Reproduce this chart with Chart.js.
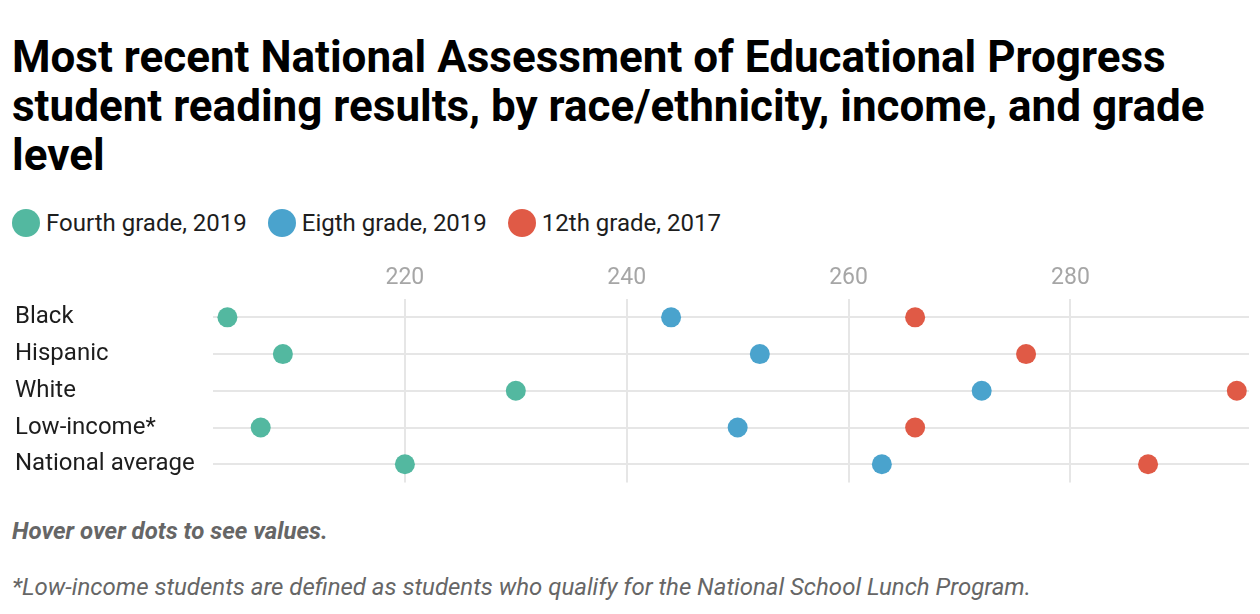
<!DOCTYPE html>
<html>
<head>
<meta charset="utf-8">
<script src="https://cdn.jsdelivr.net/npm/chart.js@4"></script>
<style>
    body {
        margin: 0;
        width: 1260px;
        height: 614px;
        background: #fff;
        font-family: Roboto, "Noto Sans", sans-serif;
        position: relative;
        overflow: hidden;
    }
    .title {
        position: absolute;
        left: 12px;
        top: 33px;
        width: 1240px;
        font-size: 44px;
        font-weight: 700;
        line-height: 49px;
        color: #000;
    }
    .legend {
        position: absolute;
        left: 12px;
        top: 209px;
        display: flex;
        font-size: 24px;
        color: #1d1d1d;
    }
    .legend-item {
        display: flex;
        align-items: center;
        margin-right: 21px;
    }
    .legend-dot {
        width: 28px;
        height: 28px;
        border-radius: 50%;
        margin-right: 6px;
    }
    .chart-box {
        position: absolute;
        left: 0;
        top: 251px;
        width: 1260px;
        height: 266px;
    }
    .note {
        position: absolute;
        left: 12px;
        font-size: 24px;
        color: #666;
        font-style: italic;
    }
    .hover { top: 517px; font-weight: 700; }
    .foot { top: 573px; }
</style>
</head>
<body>
<div class="title">Most recent National Assessment of Educational Progress student reading results, by race/ethnicity, income, and grade level</div>
<div class="legend" id="legend"></div>
<div class="chart-box"><canvas id="dotChart"></canvas></div>
<div class="note hover">Hover over dots to see values.</div>
<div class="note foot">*Low-income students are defined as students who qualify for the National School Lunch Program.</div>

<script>
// Categories and values
const groups = ['Black', 'Hispanic', 'White', 'Low-income*', 'National average'];
const seriesNames = ['Fourth grade, 2019', 'Eigth grade, 2019', '12th grade, 2017'];
const fourthGrade = [204, 209, 230, 207, 220];
const eighthGrade = [244, 252, 272, 250, 263];
const twelfthGrade = [266, 276, 295, 266, 287];
const tickValues = [220, 240, 260, 280];
const colors = ['#53b8a0', '#4aa3cd', '#e05a46'];

const seriesValues = [fourthGrade, eighthGrade, twelfthGrade];

// Build the legend
const legend = document.getElementById('legend');
seriesNames.forEach((name, i) => {
    legend.innerHTML += `
        <div class="legend-item">
            <span class="legend-dot" style="background:${colors[i]}"></span>
            <span>${name}</span>
        </div>`;
});

const datasets = seriesNames.map((name, i) => ({
    label: name,
    data: seriesValues[i].map((v, j) => ({ x: v, y: groups[j] })),
    backgroundColor: colors[i],
    borderWidth: 0,
    pointRadius: 10,
    pointHoverRadius: 11
}));

new Chart(document.getElementById('dotChart').getContext('2d'), {
    type: 'scatter',
    data: { datasets },
    options: {
        responsive: true,
        maintainAspectRatio: false,
        animation: false,
        layout: { padding: { left: 15, right: 10, top: 0, bottom: 9 } },
        plugins: {
            legend: { display: false },
            tooltip: {
                callbacks: {
                    label: ctx => `${ctx.dataset.label}: ${ctx.parsed.x}`
                }
            }
        },
        scales: {
            x: {
                type: 'linear',
                position: 'top',
                min: 202.7,
                max: 296.1,
                afterBuildTicks: scale => {
                    scale.ticks = tickValues.map(v => ({ value: v }));
                },
                afterFit: scale => { scale.height = 48; },
                grid: { color: '#e6e6e6', lineWidth: 2, drawTicks: false },
                border: { display: false },
                ticks: {
                    color: '#a6a6a6',
                    padding: 7,
                    font: { family: 'Roboto', size: 23 }
                }
            },
            y: {
                type: 'category',
                labels: groups,
                offset: true,
                afterFit: scale => { scale.width = 198; },
                grid: { color: '#e6e6e6', lineWidth: 2, drawTicks: false, offset: false },
                border: { display: false },
                ticks: {
                    color: '#1d1d1d',
                    crossAlign: 'far',
                    padding: 20,
                    font: { family: 'Roboto', size: 24 }
                }
            }
        }
    }
});
</script>
</body>
</html>
